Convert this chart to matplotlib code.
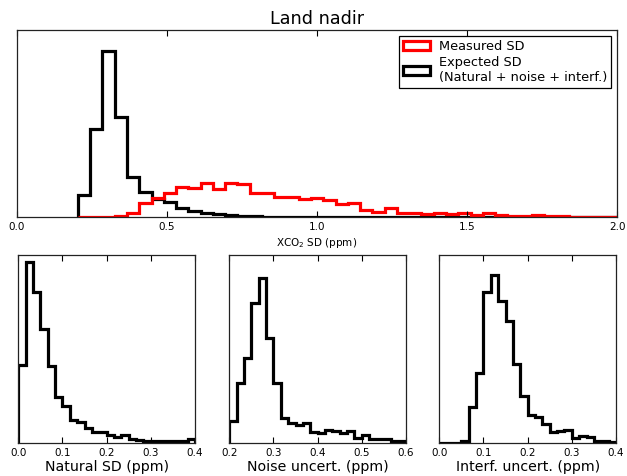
import numpy as np
import matplotlib
matplotlib.use("Agg")
import matplotlib.pyplot as plt
from matplotlib.patches import Patch

# ---------------- data ----------------
# Top panel: common bin edges (ppm)
top_bin_start = 0.203
top_bin_width = 0.0409
top_nbins = 44

measured_sd = [0.3, 0.4, 0.6, 1.0, 4.8, 14, 19, 24, 30.7, 29.5, 34.7, 28.5, 34.5, 33,
               24.5, 24, 20.5, 20.5, 18.5, 19.7, 17.5, 13, 14.5, 7.3, 5, 9, 4.7, 4.7,
               3, 4.3, 3, 4.3, 2.3, 4.3, 2, 1.7, 1.3, 2.3, 1, 1.7, 0.5, 0.4, 0.3, 0.3]
expected_sd = [22.7, 88.3, 166, 100.3, 40.5, 25.7, 18, 15.7, 9.5, 6.5, 4.5, 3, 2, 1.3,
               1, 0.7, 0.5, 0.4, 0.3, 0.2, 0.1, 0.1, 0.1, 0.1, 0, 0, 0, 0, 0, 0, 0,
               0, 0, 0, 0, 0, 0, 0, 0, 0, 0, 0, 0, 0]

# Bottom panels
natural_range = (0.0, 0.4)
natural_sd = [233, 543, 453, 341, 231, 138, 110, 68, 63, 43, 33, 33, 23, 16, 22, 12,
              7, 5, 4, 4, 4, 4, 4, 11]
noise_range = (0.2, 0.6)
noise_unc = [66, 180, 253, 420, 495, 313, 180, 73, 60, 54, 58, 33, 30, 38, 36, 28,
             36, 13, 22, 10, 10, 10, 4, 4]
interf_range = (0.0, 0.4)
interf_unc = [0, 0, 0, 6, 108, 208, 453, 503, 425, 365, 235, 140, 83, 76, 56, 33,
              36, 38, 13, 20, 16, 5, 4, 2]

top_xticks = [0.0, 0.5, 1.0, 1.5, 2.0]
natural_xticks = [0.0, 0.1, 0.2, 0.3, 0.4]
noise_xticks = [0.2, 0.3, 0.4, 0.5, 0.6]
interf_xticks = [0.0, 0.1, 0.2, 0.3, 0.4]

# ---------------- figure ----------------
plt.rcParams['font.family'] = ['DejaVu Sans']
fig = plt.figure(figsize=(6.27, 4.76), dpi=100)

W, H = 627.0, 476.0


def frac(x0, y0, x1, y1):
    return [x0 / W, 1 - y1 / H, (x1 - x0) / W, (y1 - y0) / H]


def style(ax, ticks, tick_fs=7.5):
    ax.set_xticks(ticks)
    ax.set_xticklabels(["%.1f" % t for t in ticks], fontsize=tick_fs)
    ax.tick_params(axis='x', direction='in', top=True, bottom=True, length=4,
                   width=0.8, pad=3.5)
    ax.tick_params(axis='y', left=False, right=False, labelleft=False)
    for s in ax.spines.values():
        s.set_linewidth(0.9)
        s.set_color('#222222')


lw = 2.3

# Top panel
ax = fig.add_axes(frac(17, 30, 617, 217.3))
edges = top_bin_start + top_bin_width * np.arange(top_nbins + 1)
ax.stairs(expected_sd, edges, baseline=0, color='black', lw=lw)
ax.stairs(measured_sd, edges, baseline=0, color='red', lw=lw)
ax.set_xlim(0, 2.0)
ax.set_ylim(0, 187.3)
style(ax, top_xticks)
ax.set_xlabel(r'XCO$_2$ SD (ppm)', fontsize=7.5, labelpad=3)
ax.set_title('Land nadir', fontsize=12.7, pad=4)
handles = [Patch(facecolor='white', edgecolor='red', lw=lw),
           Patch(facecolor='white', edgecolor='black', lw=lw)]
leg = ax.legend(handles, ['Measured SD', 'Expected SD\n(Natural + noise + interf.)'],
                loc='upper right', fontsize=9.3, fancybox=False, framealpha=1,
                borderaxespad=0.45, handlelength=2.1, labelspacing=0.25,
                borderpad=0.3, handletextpad=0.7)
leg.get_frame().set_edgecolor('black')
leg.get_frame().set_linewidth(0.9)

# Bottom panels
panels = [
    (18.3, natural_sd, natural_range, natural_xticks, 'Natural SD (ppm)'),
    (229.3, noise_unc, noise_range, noise_xticks, 'Noise uncert. (ppm)'),
    (439.3, interf_unc, interf_range, interf_xticks, 'Interf. uncert. (ppm)'),
]
for x0, vals, rng, ticks, label in panels:
    axb = fig.add_axes(frac(x0, 255, x0 + 176.7, 442.7))
    e = np.linspace(rng[0], rng[1], len(vals) + 1)
    axb.stairs(vals, e, baseline=0, color='black', lw=lw)
    axb.set_xlim(*rng)
    axb.set_ylim(0, 563)
    style(axb, ticks)
    axb.set_xlabel(label, fontsize=10.2, labelpad=2)

fig.savefig('out.png', dpi=100)
